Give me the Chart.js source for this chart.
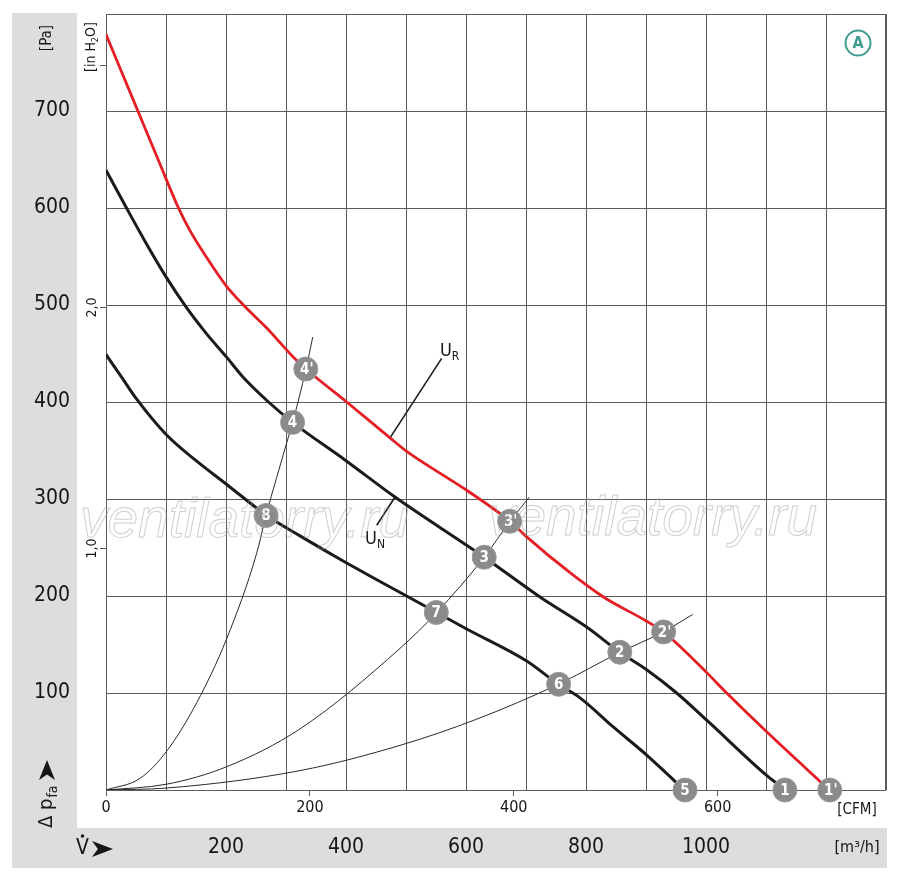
<!DOCTYPE html>
<html>
<head>
<meta charset="utf-8">
<script src="https://cdn.jsdelivr.net/npm/chart.js@4.4.1/dist/chart.umd.min.js"></script>
<style>
  html, body { margin: 0; padding: 0; background: #fff; }
  #chart { display: block; }
</style>
</head>
<body>
<canvas id="chart" width="900" height="880"></canvas>
<script>
// units
const PA_PER_INCH = 249.09;
const M3H_PER_CFM = 1.699;
const MAX_M3H = 1300;
const MAX_CFM = MAX_M3H / M3H_PER_CFM;
const MAX_PA = 800;

// fan curves (x = CFM, y = Pa)
const urCfm = [0, 30.1, 50.7, 70.3, 81.7, 98.1, 117.7, 135.7, 157, 183.1, 196.2, 236.1, 278.6, 295, 337.5, 353.8, 396.3, 412.7, 455.2, 487.9, 530.4, 546.7, 563.1, 589.3, 608.9, 648.1, 709.6];
const urPa  = [779, 703, 651, 602, 578, 550, 520, 499, 477, 447, 434, 400, 363, 349, 320, 309, 277, 261, 224, 199, 174, 163, 148, 121, 100, 60, 0];

const unCfm = [0, 19.6, 39.2, 58.9, 78.5, 98.1, 117.7, 134.1, 159.4, 183.1, 236.1, 283.5, 371, 425.7, 471.5, 504.2, 530.4, 559.8, 589.3, 648.1, 666.4];
const unPa  = [639, 601, 564, 529, 498, 471, 447, 426, 400, 379, 339, 302, 240, 199, 168, 142, 124, 100, 72, 15, 0];

const lowCfm = [0, 16.3, 30.1, 59.5, 89, 118.4, 157.6, 190.3, 236.1, 268.8, 324.4, 353.8, 412.7, 443.7, 465, 497.6, 530.4, 558.2, 568];
const lowPa  = [449, 424, 403, 366, 339, 315, 283, 262, 234, 215, 183, 166, 133, 109, 95, 65, 36, 9, 0];

// system (resistance) curves
const sysACfm = [0, 33.4, 59.5, 89, 118.4, 147.8, 157, 177.3, 183.1, 196.2, 202.8];
const sysAPa  = [0, 12, 40, 90, 156, 244, 283, 358, 379, 434, 467];
const sysBCfm = [0, 59.5, 118.4, 190.3, 288.4, 324.4, 371, 396.3, 415.3];
const sysBPa  = [0, 6, 24, 63, 146, 183, 240, 277, 302];
const sysCCfm = [0, 59.5, 190.3, 288.4, 363.6, 443.7, 504.2, 546.7, 575.5];
const sysCPa  = [0, 2, 20, 46, 73, 109, 142, 163, 181];

// operating points
const markerLabels = ['1', "1'", '2', "2'", '3', "3'", '4', "4'", '5', '6', '7', '8'];
const markerCfm    = [666, 710, 504, 547, 371, 396, 183, 196, 568, 444, 324, 157];
const markerPa     = [0, 0, 142, 163, 240, 277, 379, 434, 0, 109, 183, 283];

// leader lines of the curve names
const urLeaderCfm = [278.6, 329.3];
const urLeaderPa  = [363, 445];
const unLeaderCfm = [283.5, 265.6];
const unLeaderPa  = [302, 273];

// tick labels
const cfmTicks = [0, 200, 400, 600];
const inchTicks = [1, 2, 3];
const inchLabels = ['1,0', '2,0', ''];
const m3hLabels = [200, 400, 600, 800, 1000];

const FONT = "'Liberation Sans Narrow', 'DejaVu Sans Condensed', sans-serif";
const GRID = '#5c5c5c';
const INK = '#161616';

const pts = (xs, ys) => xs.map((x, i) => ({ x: x, y: ys[i] }));

function curve(xs, ys, color, width, order) {
  return {
    data: pts(xs, ys),
    showLine: true,
    borderColor: color,
    borderWidth: width,
    pointRadius: 0,
    cubicInterpolationMode: 'monotone',
    order: order
  };
}

function leader(xs, ys, order) {
  return {
    data: pts(xs, ys),
    showLine: true,
    borderColor: '#1b1b1b',
    borderWidth: 1.6,
    pointRadius: 0,
    tension: 0,
    order: order
  };
}

function arrowHead(ctx, x, y, len, half, angle) {
  ctx.save();
  ctx.translate(x, y);
  ctx.rotate(angle);
  ctx.beginPath();
  ctx.moveTo(0, 0);
  ctx.lineTo(-len, -half);
  ctx.lineTo(-len * 0.72, 0);
  ctx.lineTo(-len, half);
  ctx.closePath();
  ctx.fill();
  ctx.restore();
}

const decor = {
  id: 'decor',
  beforeDraw(chart) {
    const ctx = chart.ctx;
    ctx.save();
    ctx.fillStyle = '#fff';
    ctx.fillRect(0, 0, chart.width, chart.height);
    ctx.fillStyle = '#dcdddf';
    ctx.fillRect(12, 13, 65, 815);
    ctx.fillRect(12, 828, 875, 40);
    ctx.restore();
  },
  beforeDatasetsDraw(chart) {
    const ctx = chart.ctx;
    const a = chart.chartArea;
    const ys = chart.scales.y;
    ctx.save();
    ctx.strokeStyle = GRID;
    ctx.lineWidth = 1;
    ctx.strokeRect(Math.round(a.left) + 0.5, Math.round(a.top) + 0.5,
      Math.round(a.right - a.left) - 1, Math.round(a.bottom - a.top));
    // inch H2O ticks and labels
    ctx.fillStyle = INK;
    ctx.font = '14px ' + FONT;
    ctx.textAlign = 'center';
    ctx.textBaseline = 'middle';
    inchTicks.forEach((v, i) => {
      const y = Math.round(ys.getPixelForValue(v * PA_PER_INCH)) + 0.5;
      ctx.beginPath();
      ctx.moveTo(a.left - 6, y);
      ctx.lineTo(a.left, y);
      ctx.stroke();
      if (inchLabels[i]) {
        ctx.save();
        ctx.translate(92, y);
        ctx.rotate(-Math.PI / 2);
        ctx.fillText(inchLabels[i], 0, 0);
        ctx.restore();
      }
    });
    ctx.restore();
  },
  afterDatasetsDraw(chart) {
    const ctx = chart.ctx;
    const xs = chart.scales.x;
    const ys = chart.scales.y;
    ctx.save();
    // numbers in the operating points
    const meta = chart.getDatasetMeta(0);
    ctx.fillStyle = '#fff';
    ctx.font = 'bold 15px ' + FONT;
    ctx.textAlign = 'center';
    ctx.textBaseline = 'middle';
    meta.data.forEach((p, i) => {
      ctx.fillText(markerLabels[i], p.x + (markerLabels[i].length > 1 ? 1 : 0), p.y + 1);
    });

    // curve names
    ctx.fillStyle = INK;
    ctx.textAlign = 'left';
    ctx.textBaseline = 'alphabetic';
    const name = (main, sub, cfm, pa) => {
      const x = xs.getPixelForValue(cfm);
      const y = ys.getPixelForValue(pa);
      ctx.font = '18px ' + FONT;
      ctx.fillText(main, x, y);
      const w = ctx.measureText(main).width;
      ctx.font = '12px ' + FONT;
      ctx.fillText(sub, x + w, y + 4);
    };
    name('U', 'R', 327.6, 447.5);
    name('U', 'N', 254.1, 254);
    ctx.restore();
  },
  afterDraw(chart) {
    const ctx = chart.ctx;
    ctx.save();
    ctx.fillStyle = INK;
    ctx.textBaseline = 'middle';

    // [Pa]
    ctx.save();
    ctx.translate(47, 38);
    ctx.rotate(-Math.PI / 2);
    ctx.font = '15px ' + FONT;
    ctx.textAlign = 'center';
    ctx.fillText('[Pa]', 0, 0);
    ctx.restore();

    // [in H2O]
    ctx.save();
    ctx.translate(91, 72);
    ctx.rotate(-Math.PI / 2);
    ctx.textAlign = 'left';
    ctx.font = '14px ' + FONT;
    let w = 0;
    ctx.fillText('[in H', w, 0); w += ctx.measureText('[in H').width;
    ctx.font = '9px ' + FONT;
    ctx.fillText('2', w, 5); w += ctx.measureText('2').width;
    ctx.font = '14px ' + FONT;
    ctx.fillText('O]', w, 0);
    ctx.restore();

    // delta p_fa with arrow
    ctx.save();
    ctx.translate(47, 828);
    ctx.rotate(-Math.PI / 2);
    ctx.textAlign = 'left';
    ctx.font = '20px ' + FONT;
    w = 0;
    ctx.fillText('\u0394 p', w, 0); w += ctx.measureText('\u0394 p').width + 1;
    ctx.font = '14px ' + FONT;
    ctx.fillText('fa', w, 6);
    ctx.restore();
    arrowHead(ctx, 47, 760, 20, 8, -Math.PI / 2);

    // V dot with arrow
    ctx.font = '21px ' + FONT;
    ctx.textAlign = 'left';
    ctx.fillText('V', 76, 849);
    ctx.beginPath();
    ctx.arc(82.5, 836, 1.8, 0, Math.PI * 2);
    ctx.fill();
    arrowHead(ctx, 113, 849, 21, 8, 0);

    // unit labels of the two x scales
    ctx.textAlign = 'center';
    ctx.font = '15px ' + FONT;
    ctx.fillText('[CFM]', 857, 810);
    ctx.font = '16px ' + FONT;
    ctx.fillText('[m\u00b3/h]', 857, 848);

    // circled A
    ctx.strokeStyle = '#3f9b90';
    ctx.fillStyle = '#3f9b90';
    ctx.lineWidth = 2;
    ctx.beginPath();
    ctx.arc(858, 43, 12.5, 0, Math.PI * 2);
    ctx.stroke();
    ctx.font = 'bold 16px ' + FONT;
    ctx.fillText('A', 858, 44);

    // watermark
    ctx.strokeStyle = 'rgba(160,160,160,0.5)';
    ctx.lineWidth = 1;
    ctx.font = 'italic 55px "Liberation Sans", sans-serif';
    ctx.textAlign = 'left';
    ctx.textBaseline = 'alphabetic';
    ctx.strokeText('ventilatorry.ru', 80, 537);
    ctx.strokeText('ventilatorry.ru', 488, 535);
    ctx.restore();
  }
};

const markers = {
  data: pts(markerCfm, markerPa),
  showLine: false,
  pointRadius: 12,
  pointHoverRadius: 12,
  pointBackgroundColor: '#8b8b8b',
  pointBorderColor: '#9a9a9a',
  pointBorderWidth: 1,
  clip: false,
  order: 0
};

new Chart(document.getElementById('chart'), {
  type: 'scatter',
  data: {
    datasets: [
      markers,
      curve(urCfm, urPa, '#e31e24', 2.8, 1),
      curve(unCfm, unPa, '#1b1b1b', 3, 2),
      curve(lowCfm, lowPa, '#1b1b1b', 3, 3),
      curve(sysACfm, sysAPa, '#2a2a2a', 1, 4),
      curve(sysBCfm, sysBPa, '#2a2a2a', 1, 5),
      curve(sysCCfm, sysCPa, '#2a2a2a', 1, 6),
      leader(urLeaderCfm, urLeaderPa, 7),
      leader(unLeaderCfm, unLeaderPa, 8)
    ]
  },
  options: {
    responsive: false,
    animation: false,
    events: [],
    devicePixelRatio: 1,
    layout: { padding: { left: 0, right: 14, top: 14, bottom: 12 } },
    plugins: { legend: { display: false }, tooltip: { enabled: false } },
    scales: {
      x: {
        type: 'linear',
        position: 'bottom',
        min: 0,
        max: MAX_CFM,
        afterBuildTicks: function (s) { s.ticks = cfmTicks.map(v => ({ value: v })); },
        afterFit: function (s) { s.height = 38; },
        border: { display: false },
        grid: { drawOnChartArea: false, drawTicks: true, tickLength: 6, tickColor: GRID },
        ticks: {
          autoSkip: false,
          maxRotation: 0,
          padding: 2,
          color: INK,
          font: { family: FONT, size: 16 }
        }
      },
      x2: {
        type: 'linear',
        position: 'bottom',
        min: 0,
        max: MAX_M3H,
        afterFit: function (s) { s.height = 40; },
        border: { display: false },
        grid: { color: GRID, lineWidth: 1, drawTicks: true, tickLength: 7, tickColor: 'rgba(0,0,0,0)' },
        ticks: {
          stepSize: 100,
          autoSkip: false,
          maxRotation: 0,
          padding: 0,
          color: INK,
          font: { family: FONT, size: 21 },
          callback: v => (m3hLabels.indexOf(v) >= 0 ? String(v) : '')
        }
      },
      y: {
        type: 'linear',
        position: 'left',
        min: 0,
        max: MAX_PA,
        afterFit: function (s) { s.width = 106; },
        border: { display: false },
        grid: { color: GRID, lineWidth: 1, drawTicks: true, tickLength: 36, tickColor: 'rgba(0,0,0,0)' },
        ticks: {
          stepSize: 100,
          autoSkip: false,
          padding: 0,
          color: INK,
          font: { family: FONT, size: 21 },
          callback: v => (v > 0 && v < MAX_PA ? String(v) : '')
        }
      }
    }
  },
  plugins: [decor]
});
</script>
</body>
</html>
